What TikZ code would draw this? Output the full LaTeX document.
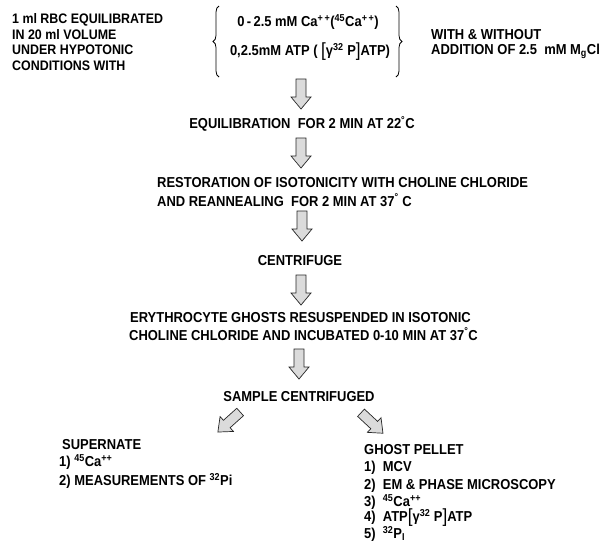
\documentclass[tikz,border=0pt]{standalone}
\usepackage{fontspec}
\setmainfont{Liberation Sans}[FakeStretch=0.9]
\usetikzlibrary{decorations.pathreplacing}
\newcommand{\blockarrow}[3]{%
  \coordinate (#1) at (#2);
  \begin{scope}[shift={(#1)}, rotate=#3]
    \draw[blk] (-15,-5) -- (3,-5) -- (3,-10) -- (15,0) -- (3,10) -- (3,5) -- (-15,5) -- cycle;
  \end{scope}}
\newcommand{\tbrk}[1]{\raisebox{-1.5pt}{\fontsize{19}{19}\fontseries{m}\selectfont #1}}
\begin{document}
\begin{tikzpicture}[x=1pt,y=-1pt,
  txt/.style={font=\bfseries\fontsize{14.4}{16}\selectfont, inner sep=0pt},
  sm/.style={font=\bfseries\fontsize{13.8}{16}\selectfont, inner sep=0pt, anchor=west},
  lt/.style={txt, anchor=west},
  blk/.style={draw=black!85, line width=0.7pt, fill=gray!28, line join=miter}]
\useasboundingbox (0,0) rectangle (605,542);
% top block
\node[sm] (l1) at (12,20) {1 ml RBC EQUILIBRATED};
\node[sm] (l2) at (12,35) {IN 20 ml VOLUME};
\node[sm] (l3) at (12,50) {UNDER HYPOTONIC};
\node[sm] (l4) at (12,66) {CONDITIONS WITH};
\node[txt] (c1) at (308,22) {0\,-\,2.5 mM Ca\textsuperscript{+\,+}(\textsuperscript{45}Ca\textsuperscript{+\,+})};
\node[txt] (c2) at (310,52) {0,2.5mM ATP ( \tbrk{[}γ\textsuperscript{32} P\tbrk{]}ATP)};
\coordinate (bl1) at (219,6);
\coordinate (bl2) at (219,77);
\coordinate (br1) at (396,6);
\coordinate (br2) at (396,77);
\draw[line width=0.8pt, decorate, decoration={brace, amplitude=6pt}] (bl2) -- (bl1);
\draw[line width=0.8pt, decorate, decoration={brace, amplitude=6pt}] (br1) -- (br2);
\node[lt] (w1) at (431,35) {WITH \& WITHOUT};
\node[lt] (w2) at (431,51) {ADDITION OF 2.5 \ mM M\textsubscript{g}Cl};
% flow
\blockarrow{a1}{301,94}{-90}
\node[txt] (s1) at (302,124) {EQUILIBRATION \ FOR 2 MIN AT 22\textsuperscript{°}C};
\blockarrow{a2}{301,153}{-90}
\node[lt] (s2a) at (157,183) {RESTORATION OF ISOTONICITY WITH CHOLINE CHLORIDE};
\node[lt] (s2b) at (157,200) {AND REANNEALING \ FOR 2 MIN AT 37\textsuperscript{°} C};
\blockarrow{a3}{302,226}{-90}
\node[txt] (s3) at (300,261) {CENTRIFUGE};
\blockarrow{a4}{301,290}{-90}
\node[lt] (s4a) at (130,318) {ERYTHROCYTE GHOSTS RESUSPENDED IN ISOTONIC};
\node[lt] (s4b) at (129,334) {CHOLINE CHLORIDE AND INCUBATED 0-10 MIN AT 37\textsuperscript{°}C};
\blockarrow{a5}{299,364}{-90}
\node[txt] (s5) at (299,397) {SAMPLE CENTRIFUGED};
\blockarrow{a6}{229,422}{-138}
\blockarrow{a7}{372,423}{-43}
% left result
\node[lt] (r1) at (62,445) {SUPERNATE};
\node[lt] (r2) at (59,462) {1) \textsuperscript{45}Ca\textsuperscript{++}};
\node[lt] (r3) at (59,481) {2) MEASUREMENTS OF \textsuperscript{32}Pi};
% right result
\node[lt] (g0) at (364,450) {GHOST PELLET};
\node[lt] (g1) at (364,468) {1) \ MCV};
\node[lt] (g2) at (364,486) {2) \ EM \& PHASE MICROSCOPY};
\node[lt] (g3) at (364,502) {3) \ \textsuperscript{45}Ca\textsuperscript{++}};
\node[lt] (g4) at (364,518) {4) \ ATP\tbrk{[}γ\textsuperscript{32} P\tbrk{]}ATP};
\node[lt] (g5) at (364,534) {5) \ \textsuperscript{32}P\textsubscript{I}};
\end{tikzpicture}
\end{document}
